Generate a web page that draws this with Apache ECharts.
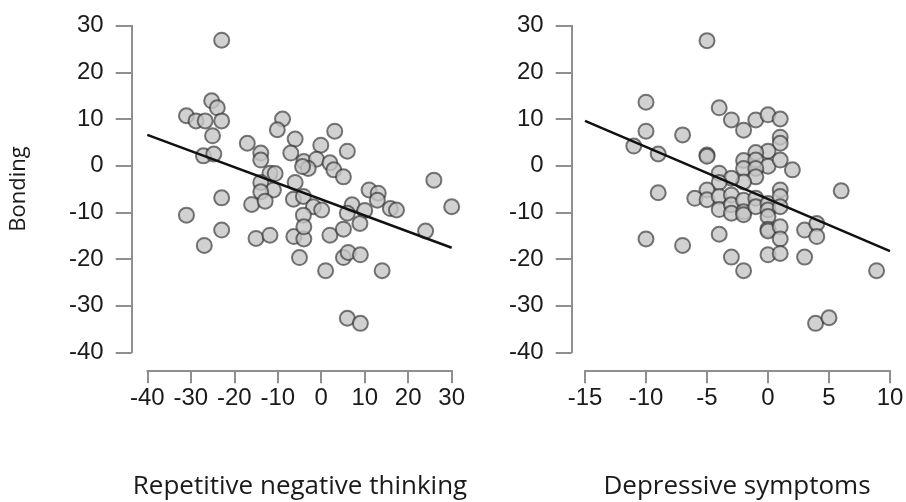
<!DOCTYPE html>
<html>
<head>
<meta charset="utf-8">
<style>
  html, body { margin: 0; padding: 0; background: #ffffff; }
  #chart { width: 906px; height: 502px; }
</style>
<script src="https://cdn.jsdelivr.net/npm/echarts@6/dist/echarts.min.js"></script>
</head>
<body>
<div id="chart"></div>
<script>
// ---- Data ----
const yTitle = 'Bonding';
const leftTitle = 'Repetitive negative thinking';
const rightTitle = 'Depressive symptoms';

// Left panel: Repetitive negative thinking (x) vs Bonding (y)
const rntX = [-22.9,-25.2,-23.9,-31.0,-28.8,-26.7,-22.9,-25.0,-27.1,-24.7,
  -8.9,-10.1,3.1,-17.0,-6.0,-0.1,6.0,-13.9,-13.9,-7.0,
  -4.0,-1.1,-3.0,-4.3,2.0,2.9,5.1,-11.8,-10.6,-13.9,
  -6.0,-11.0,-13.9,-22.9,-16.0,-12.9,-6.4,-4.1,-1.8,0.1,
  -4.1,7.1,10.0,6.0,11.0,13.1,12.9,15.9,17.3,25.9,
  30.0,-31.0,-22.9,-26.9,-15.0,-11.8,-6.3,-4.0,-4.0,2.0,
  5.1,8.9,24.0,-5.0,5.1,6.2,9.0,1.0,14.0,6.0,9.0];
const rntY = [26.9,13.9,12.4,10.7,9.6,9.6,9.6,6.4,2.1,2.5,
  10.0,7.7,7.4,4.8,5.7,4.4,3.1,2.7,1.2,2.7,
  0.9,1.4,-0.6,-0.2,0.6,-0.9,-2.4,-1.6,-1.7,-3.6,
  -3.6,-5.2,-5.6,-6.9,-8.3,-7.6,-7.2,-6.6,-8.8,-9.5,
  -10.6,-8.4,-9.6,-10.2,-5.2,-5.9,-7.4,-9.2,-9.5,-3.1,
  -8.8,-10.6,-13.8,-17.1,-15.6,-14.9,-15.2,-15.7,-13.1,-14.9,
  -13.6,-12.4,-14.0,-19.7,-19.7,-18.6,-19.1,-22.5,-22.5,-32.7,-33.8];
const rntFitX = [-40, 30];
const rntFitY = [6.6, -17.6];

// Right panel: Depressive symptoms (x) vs Bonding (y)
const depX = [-5,-10,-10,-11,-9,-7,-5,-5,-4,-3,
  -2,-1,0,1,1,1,0,-1,-2,-1,
  0,1,2,-2,-1,-1,-2,-4,-3,-4,
  -5,-6,-5,-4,-3,-4,-3,-3,-2,-2,
  -2,-1,-1,0,0,0,1,1,1,0,
  0,1,1,0,1,3,4,4,3,6,
  8.9,3.9,5,-9,-10,-7,-4,-3,-2];
const depY = [26.8,13.6,7.4,4.2,2.5,6.6,2.3,2.0,12.4,9.8,
  7.6,9.8,10.9,10.0,6.1,4.8,3.1,2.8,1.1,1.2,
  -0.1,1.2,-0.9,-0.6,-0.6,-2.4,-3.5,-1.6,-2.7,-3.6,
  -5.2,-7.0,-7.3,-6.6,-6.3,-9.4,-8.4,-10.2,-7.4,-9.9,
  -10.5,-7.0,-8.8,-8.1,-9.5,-10.9,-5.2,-6.6,-8.8,-13.6,
  -14.0,-13.1,-15.7,-19.1,-18.8,-13.8,-12.4,-15.2,-19.6,-5.4,
  -22.5,-33.8,-32.6,-5.8,-15.7,-17.1,-14.7,-19.6,-22.5];
const depFitX = [-15, 10];
const depFitY = [9.6, -18.3];

const yMin = -40, yMax = 30, yStep = 10;
const rntMin = -40, rntMax = 30, rntStep = 10;
const depMin = -15, depMax = 10, depStep = 5;

// ---- Build chart ----
const zip = (a, b) => a.map((v, i) => [v, b[i]]);
const axisGray = '#8f8f8f';
const labelFont = { fontFamily: 'Liberation Sans, Arial, sans-serif', fontSize: 24, color: '#1a1a1a' };

function xAxisOf(gi, min, max, step) {
  return {
    type: 'value', gridIndex: gi, min: min, max: max, interval: step,
    position: 'bottom', offset: 18,
    axisLine: { show: true, onZero: false, lineStyle: { color: axisGray, width: 2 } },
    axisTick: { show: true, length: 13, lineStyle: { color: axisGray, width: 2 } },
    axisLabel: Object.assign({ margin: 16 }, labelFont),
    splitLine: { show: false }
  };
}
function yAxisOf(gi, offset) {
  return {
    type: 'value', gridIndex: gi, min: yMin, max: yMax, interval: yStep,
    position: 'left', offset: offset,
    axisLine: { show: true, onZero: false, lineStyle: { color: axisGray, width: 2 } },
    axisTick: { show: true, length: 16, lineStyle: { color: axisGray, width: 2 } },
    axisLabel: Object.assign({ margin: 28 }, labelFont),
    splitLine: { show: false }
  };
}
const pointStyle = {
  color: '#c6c6c6',
  borderColor: 'rgba(45,45,45,0.8)',
  borderWidth: 2
};

const chart = echarts.init(document.getElementById('chart'), null, { renderer: 'canvas' });
chart.setOption({
  animation: false,
  backgroundColor: '#ffffff',
  grid: [
    { left: 147.3, top: 25.7, width: 304.4, height: 326.6, containLabel: false, outerBoundsMode: 'none' },
    { left: 585, top: 25.7, width: 305, height: 326.6, containLabel: false, outerBoundsMode: 'none' }
  ],
  xAxis: [xAxisOf(0, rntMin, rntMax, rntStep), xAxisOf(1, depMin, depMax, depStep)],
  yAxis: [yAxisOf(0, 15.6), yAxisOf(1, 13.3)],
  series: [
    { type: 'scatter', xAxisIndex: 0, yAxisIndex: 0, data: zip(rntX, rntY),
      symbol: 'circle', symbolSize: 15, itemStyle: pointStyle, clip: false, z: 2 },
    { type: 'line', xAxisIndex: 0, yAxisIndex: 0, data: zip(rntFitX, rntFitY),
      symbol: 'none', lineStyle: { color: '#111', width: 2.5 }, z: 3, silent: true },
    { type: 'scatter', xAxisIndex: 1, yAxisIndex: 1, data: zip(depX, depY),
      symbol: 'circle', symbolSize: 15, itemStyle: pointStyle, clip: false, z: 2 },
    { type: 'line', xAxisIndex: 1, yAxisIndex: 1, data: zip(depFitX, depFitY),
      symbol: 'none', lineStyle: { color: '#111', width: 2.5 }, z: 3, silent: true }
  ],
  graphic: [
    { type: 'text', x: 19, y: 189, rotation: Math.PI / 2,
      style: { text: yTitle, fontFamily: 'Open Sans, sans-serif', fontSize: 22, fill: '#1a1a1a',
               align: 'center', verticalAlign: 'middle' } },
    { type: 'text', x: 300, y: 487,
      style: { text: leftTitle, fontFamily: 'Open Sans, sans-serif', fontSize: 26, fill: '#1a1a1a',
               align: 'center', verticalAlign: 'middle' } },
    { type: 'text', x: 737, y: 487,
      style: { text: rightTitle, fontFamily: 'Open Sans, sans-serif', fontSize: 26, fill: '#1a1a1a',
               align: 'center', verticalAlign: 'middle' } }
  ]
});
</script>
</body>
</html>
